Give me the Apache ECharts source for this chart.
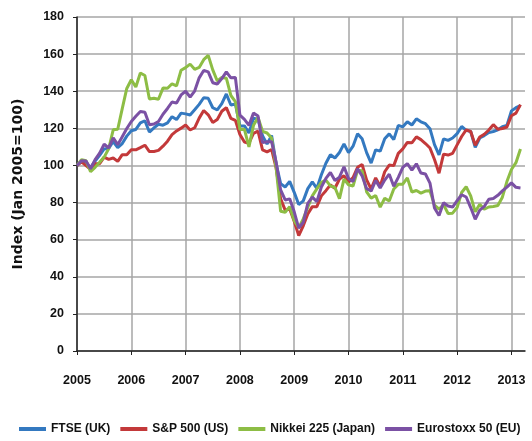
<!DOCTYPE html>
<html>
<head>
<meta charset="utf-8">
<script src="https://cdn.jsdelivr.net/npm/echarts@6/dist/echarts.min.js"></script>
<style>
html,body{margin:0;padding:0;background:#fff;}
#chart{width:532px;height:441px;}
</style>
</head>
<body>
<div id="chart"></div>
<script>
// Monthly index values, Jan 2005 = 100 (Jan 2005 .. Mar 2013)
const startYear = 2005;
const seriesNames = ['FTSE (UK)', 'S&P 500 (US)', 'Nikkei 225 (Japan)', 'Eurostoxx 50 (EU)'];
const yearTicks = [2005, 2006, 2007, 2008, 2009, 2010, 2011, 2012, 2013];

const ftse = [
  100, 102.4, 100.9, 99.0, 102.3, 105.4, 108.9, 109.2, 112.9, 109.6, 111.8, 115.8,
  118.7, 119.4, 122.9, 124.1, 118.0, 120.2, 122.2, 121.7, 122.9, 126.3, 124.7, 128.2,
  127.8, 127.2, 130.0, 132.9, 136.5, 136.2, 131.1, 129.9, 133.3, 138.5, 132.6, 133.1,
  121.2, 121.3, 117.5, 125.5, 124.8, 116.0, 111.5, 116.2, 101.0, 90.2, 88.4, 91.4,
  85.5, 78.9, 80.9, 87.5, 91.1, 87.6, 95.0, 101.2, 105.8, 104.0, 107.0, 111.6,
  106.9, 110.4, 117.1, 114.4, 106.9, 101.3, 108.4, 107.7, 114.4, 117.0, 113.9, 121.6,
  120.8, 123.5, 121.8, 125.1, 123.5, 122.5, 119.8, 111.2, 105.7, 114.3, 113.5, 114.8,
  117.1, 121.0, 118.9, 118.3, 109.7, 114.8, 116.1, 117.7, 118.3, 119.2, 120.9, 121.6,
  129.4, 131.1, 132.2
];
const sp500 = [
  100, 101.9, 99.9, 97.9, 100.9, 100.9, 104.5, 103.3, 104.0, 102.2, 105.8, 105.7,
  108.4, 108.4, 109.6, 110.9, 107.5, 107.5, 108.1, 110.4, 113.1, 116.6, 118.6, 120.1,
  121.8, 119.1, 120.3, 125.5, 129.6, 127.3, 123.2, 124.8, 129.2, 131.2, 125.4, 124.3,
  116.7, 112.6, 112.0, 117.3, 118.5, 108.4, 107.3, 108.6, 98.7, 82.0, 75.9, 76.5,
  69.9, 62.2, 67.5, 73.9, 77.8, 77.8, 83.6, 86.4, 89.5, 87.7, 92.7, 94.4,
  90.9, 93.5, 99.0, 100.5, 92.2, 87.3, 93.3, 88.8, 96.6, 100.2, 99.9, 106.5,
  108.9, 112.4, 112.2, 115.4, 113.9, 111.8, 109.4, 103.2, 95.8, 106.1, 105.6, 106.5,
  111.1, 115.6, 119.2, 118.3, 110.9, 115.3, 116.8, 119.1, 122.0, 119.5, 119.9, 120.7,
  126.8, 128.2, 132.8
];
const nikkei = [
  100, 103.1, 102.5, 96.7, 99.0, 101.7, 104.5, 109.0, 119.2, 119.5, 130.6, 141.5,
  146.2, 142.3, 149.8, 148.5, 135.8, 136.2, 135.7, 141.7, 141.6, 144.0, 142.9, 151.3,
  152.7, 154.6, 151.8, 152.8, 157.0, 159.3, 151.5, 145.5, 147.4, 147.0, 137.7, 134.4,
  119.4, 119.5, 110.0, 121.6, 125.9, 118.4, 117.5, 114.8, 98.9, 75.3, 74.8, 77.8,
  70.2, 66.5, 71.2, 77.5, 83.6, 87.4, 90.9, 92.1, 89.0, 88.1, 82.1, 92.6,
  89.6, 88.9, 97.4, 97.1, 85.8, 82.4, 83.8, 77.5, 82.3, 80.8, 87.3, 89.8,
  89.9, 93.3, 85.7, 86.5, 85.1, 86.2, 86.4, 78.6, 76.4, 78.9, 74.1, 74.3,
  77.3, 85.4, 88.5, 83.6, 75.0, 79.1, 76.4, 77.6, 77.9, 78.4, 82.9, 91.3,
  97.8, 101.5, 108.9
];
const eurostoxx = [
  100, 102.5, 102.4, 98.2, 103.1, 106.6, 111.5, 109.4, 114.9, 111.2, 115.5, 119.9,
  123.7, 126.5, 129.1, 128.7, 121.9, 122.3, 123.7, 127.6, 130.7, 134.2, 133.6, 138.0,
  140.0, 136.9, 140.1, 147.2, 151.2, 150.4, 144.6, 143.9, 146.8, 150.4, 147.2, 147.4,
  127.1, 124.8, 121.6, 128.2, 126.6, 112.3, 112.8, 112.8, 101.8, 86.8, 81.4, 82.0,
  75.0, 66.2, 69.4, 79.6, 82.9, 80.5, 88.4, 93.0, 96.2, 91.9, 93.7, 99.3,
  93.0, 91.4, 98.2, 94.4, 87.5, 86.2, 91.9, 87.9, 92.1, 95.3, 88.8, 93.6,
  99.0, 101.0, 97.5, 100.9, 95.9, 95.4, 90.5, 77.1, 73.0, 79.9, 78.1, 77.6,
  81.0, 84.2, 83.0, 77.3, 71.0, 75.9, 77.9, 81.8, 82.2, 83.9, 86.3, 88.3,
  90.6, 88.2, 87.9
];

const colors = ['#3479c0', '#c3393a', '#8dbd45', '#7b51a4'];
const allValues = [ftse, sp500, nikkei, eurostoxx];

function toPairs(vals) {
  return vals.map((v, i) => [startYear + i / 12, v]);
}

const labelFont = "'Liberation Sans', Arial, sans-serif";

const chart = echarts.init(document.getElementById('chart'), null, {renderer: 'canvas'});
chart.setOption({
  animation: false,
  color: colors,
  grid: {left: 77, right: 7, top: 17, bottom: 90, containLabel: false},
  xAxis: {
    type: 'value',
    min: startYear,
    max: startYear + (ftse.length) / 12,
    interval: 1,
    axisLine: {show: true, lineStyle: {color: '#222', width: 1.5}},
    axisTick: {show: true, length: 4, lineStyle: {color: '#222'}},
    axisLabel: {
      margin: 23,
      fontFamily: labelFont, fontWeight: 'bold', fontSize: 12.5, color: '#111',
      showMaxLabel: false,
      formatter: function (v) { return yearTicks.indexOf(v) >= 0 ? String(v) : ''; }
    },
    splitLine: {show: true, showMaxLine: false, lineStyle: {color: '#a6a6a6', width: 1.5}}
  },
  yAxis: {
    type: 'value',
    min: 0, max: 180, interval: 20,
    name: 'Index (Jan 2005=100)',
    nameLocation: 'middle',
    nameGap: 52,
    nameTextStyle: {fontFamily: "'DejaVu Sans', sans-serif", fontWeight: 'bold', fontSize: 14, color: '#111'},
    axisLine: {show: true, lineStyle: {color: '#222', width: 1.5}},
    axisTick: {show: true, length: 4, lineStyle: {color: '#222'}},
    axisLabel: {margin: 13, fontFamily: labelFont, fontWeight: 'bold', fontSize: 12.5, color: '#111'},
    splitLine: {show: true, lineStyle: {color: '#a6a6a6', width: 1.5}}
  },
  legend: {
    top: 418,
    left: 14,
    width: 530,
    icon: 'rect',
    itemWidth: 27,
    itemHeight: 4,
    itemGap: 10,
    textStyle: {fontFamily: labelFont, fontWeight: 'bold', fontSize: 12, color: '#111'},
    data: seriesNames
  },
  series: seriesNames.map((name, k) => ({
    name: name,
    type: 'line',
    data: toPairs(allValues[k]),
    showSymbol: false,
    symbol: 'none',
    lineStyle: {width: 3, color: colors[k]},
    itemStyle: {color: colors[k]}
  }))
});
</script>
</body>
</html>
